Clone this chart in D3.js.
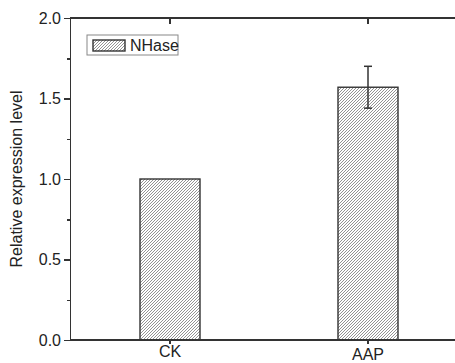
<!DOCTYPE html>
<html>
<head>
<script src="https://d3js.org/d3.v7.min.js"></script>
<style>
  body { margin: 0; background: #fff; }
  svg { font-family: "Liberation Sans", Arial, sans-serif; display: block; }
  .axis path, .axis line { stroke: #333; stroke-width: 1.5; shape-rendering: crispEdges; }
  .axis text { font-size: 16px; fill: #222; }
</style>
</head>
<body>
<svg width="455" height="363"></svg>
<script>
// data
const categories = ["CK", "AAP"];
const values = [1.0, 1.57];
const errors = [0, 0.13];
const seriesName = "NHase";
const yTicks = [0, 0.5, 1.0, 1.5, 2.0];
const yMinorTicks = [0.25, 0.75, 1.25, 1.75];

const svg = d3.select("svg");
const plotL = 70, plotR = 467, plotT = 18, plotB = 340;

const x = d3.scaleBand().domain(categories).range([plotL + 1, plotR]);
const y = d3.scaleLinear().domain([0, 2]).range([plotB, plotT]);
const barW = 60;

// hatch pattern
const defs = svg.append("defs");
const pat = defs.append("pattern")
  .attr("id", "hatch")
  .attr("patternUnits", "userSpaceOnUse")
  .attr("width", 3).attr("height", 3);
pat.append("rect").attr("width", 3).attr("height", 3).attr("fill", "#fff");
pat.append("path")
  .attr("d", "M-1,1 l2,-2 M0,3 l3,-3 M2,4 l2,-2")
  .attr("stroke", "#777").attr("stroke-width", 0.8);

// bars
svg.selectAll(".bar")
  .data(categories)
  .enter().append("rect")
  .attr("x", d => x(d) + x.bandwidth() / 2 - barW / 2)
  .attr("y", (d, i) => y(values[i]))
  .attr("width", barW)
  .attr("height", (d, i) => y(0) - y(values[i]))
  .attr("fill", "url(#hatch)")
  .attr("stroke", "#333")
  .attr("stroke-width", 1.4);

// error bars
categories.forEach((c, i) => {
  if (!errors[i]) return;
  const cx = x(c) + x.bandwidth() / 2;
  const g = svg.append("g").attr("stroke", "#333").attr("stroke-width", 1.5);
  g.append("line").attr("x1", cx).attr("x2", cx)
    .attr("y1", y(values[i] + errors[i])).attr("y2", y(values[i] - errors[i]));
  [values[i] + errors[i], values[i] - errors[i]].forEach(v => {
    g.append("line").attr("x1", cx - 4).attr("x2", cx + 4)
      .attr("y1", y(v)).attr("y2", y(v));
  });
});

// left axis
svg.append("g").attr("class", "axis")
  .attr("transform", `translate(${plotL},0)`)
  .call(d3.axisLeft(y).tickValues(yTicks).tickFormat(d3.format(".1f")).tickSize(6).tickSizeOuter(0).tickPadding(3));
svg.append("g").attr("class", "axis")
  .attr("transform", `translate(${plotL},0)`)
  .call(d3.axisLeft(y).tickValues(yMinorTicks).tickFormat("").tickSize(3).tickSizeOuter(0))
  .select(".domain").remove();

// bottom axis
const xb = svg.append("g").attr("class", "axis")
  .attr("transform", `translate(0,${plotB})`)
  .call(d3.axisBottom(x).tickSize(4).tickSizeOuter(0).tickPadding(2));
xb.select(".domain").attr("d", `M${plotL},0H${plotR}`);
xb.selectAll(".tick text").attr("dy", (d, i) => i === 1 ? "0.86em" : "0.68em");

// top axis
const xt = svg.append("g").attr("class", "axis")
  .attr("transform", `translate(0,${plotT})`)
  .call(d3.axisBottom(x).tickSize(6).tickSizeOuter(0).tickFormat(""));
xt.select(".domain").attr("d", `M${plotL},0H${plotR}`);

// y label
svg.append("text")
  .attr("transform", `translate(22,${(plotT + plotB) / 2}) rotate(-90)`)
  .attr("text-anchor", "middle")
  .style("font-size", "16px")
  .attr("fill", "#222")
  .text("Relative expression level");

// legend
const lg = svg.append("g").attr("transform", "translate(87,35)");
lg.append("rect").attr("width", 91).attr("height", 20)
  .attr("fill", "#fff").attr("stroke", "#888").attr("stroke-width", 1);
lg.append("rect").attr("x", 6).attr("y", 5).attr("width", 32).attr("height", 11)
  .attr("fill", "url(#hatch)").attr("stroke", "#333").attr("stroke-width", 1.4);
lg.append("text").attr("x", 43).attr("y", 16)
  .style("font-size", "16px").attr("fill", "#222")
  .text(seriesName);
</script>
</body>
</html>
